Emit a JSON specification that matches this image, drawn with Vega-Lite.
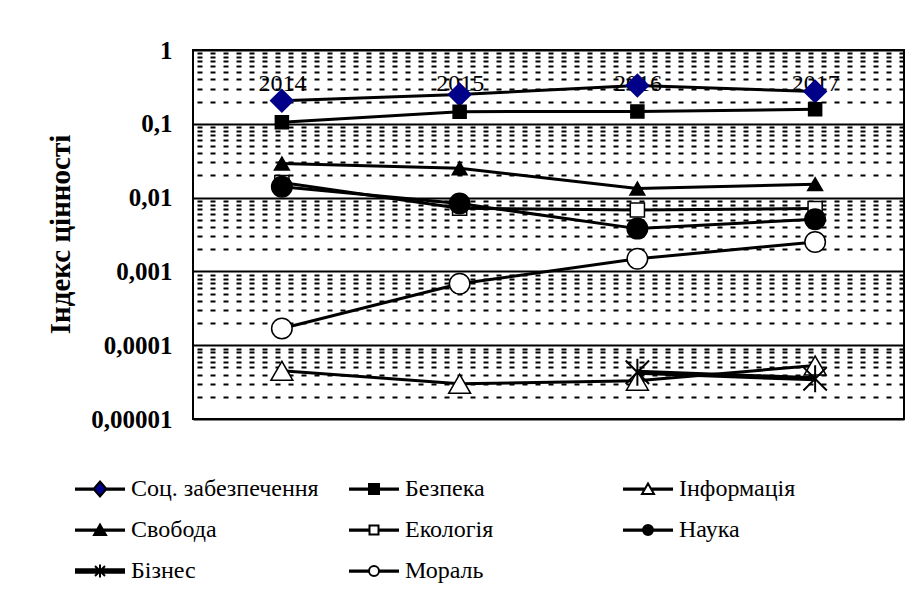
{
  "$schema": "https://vega.github.io/schema/vega-lite/v6.json",
  "width": 711,
  "height": 369,
  "autosize": {"type": "none"},
  "padding": {"left": 193, "top": 50, "right": 6, "bottom": 172},
  "background": "white",
  "config": {
    "view": {"stroke": "black", "strokeWidth": 2, "fill": "white"},
    "font": "Liberation Serif",
    "legend": {"labelFont": "Liberation Serif"}
  },
  "data": {
    "values": [
      {"series": "Соц. забезпечення", "year": "2014", "value": 0.206},
      {"series": "Соц. забезпечення", "year": "2015", "value": 0.25},
      {"series": "Соц. забезпечення", "year": "2016", "value": 0.33},
      {"series": "Соц. забезпечення", "year": "2017", "value": 0.275},
      {"series": "Безпека", "year": "2014", "value": 0.105},
      {"series": "Безпека", "year": "2015", "value": 0.146},
      {"series": "Безпека", "year": "2016", "value": 0.147},
      {"series": "Безпека", "year": "2017", "value": 0.157},
      {"series": "Свобода", "year": "2014", "value": 0.029},
      {"series": "Свобода", "year": "2015", "value": 0.025},
      {"series": "Свобода", "year": "2016", "value": 0.0133},
      {"series": "Свобода", "year": "2017", "value": 0.0152},
      {"series": "Екологія", "year": "2014", "value": 0.016},
      {"series": "Екологія", "year": "2015", "value": 0.0072},
      {"series": "Екологія", "year": "2016", "value": 0.0068},
      {"series": "Екологія", "year": "2017", "value": 0.0071},
      {"series": "Наука", "year": "2014", "value": 0.014},
      {"series": "Наука", "year": "2015", "value": 0.0083},
      {"series": "Наука", "year": "2016", "value": 0.0038},
      {"series": "Наука", "year": "2017", "value": 0.0051},
      {"series": "Мораль", "year": "2014", "value": 0.000168},
      {"series": "Мораль", "year": "2015", "value": 0.00068},
      {"series": "Мораль", "year": "2016", "value": 0.00148},
      {"series": "Мораль", "year": "2017", "value": 0.0025},
      {"series": "Інформація", "year": "2014", "value": 0.000045},
      {"series": "Інформація", "year": "2015", "value": 0.00003},
      {"series": "Інформація", "year": "2016", "value": 0.000033},
      {"series": "Інформація", "year": "2017", "value": 0.000053},
      {"series": "Бізнес", "year": "2016", "value": 0.000043},
      {"series": "Бізнес", "year": "2017", "value": 0.000035}
    ]
  },
  "resolve": {"axis": {"y": "independent"}, "scale": {"shape": "independent", "fill": "independent", "stroke": "independent"}},
  "layer": [
    {
      "mark": {"type": "line", "color": "black"},
      "encoding": {
        "x": {
          "field": "year", "type": "ordinal",
          "scale": {"type": "point", "padding": 0.5, "domain": ["2014", "2015", "2016", "2017"]},
          "axis": {"orient": "top", "title": null, "domain": false, "ticks": false, "tickSize": 0, "grid": false, "labelAngle": 0, "labelPadding": -33, "labelBaseline": "middle", "labelFont": "Liberation Serif", "labelFontSize": 24, "labelColor": "black", "zindex": 0}
        },
        "y": {
          "field": "value", "type": "quantitative",
          "scale": {"type": "log", "domain": [0.00001, 1], "nice": false},
          "axis": {
            "orient": "left",
            "values": [0.00001, 0.0001, 0.001, 0.01, 0.1, 1],
            "labelExpr": "replace(format(datum.value, '.5~f'), '.', ',')",
            "labelFont": "Liberation Serif", "labelFontSize": 25, "labelFontWeight": "bold", "labelColor": "black",
            "labelPadding": 21, "labelOverlap": false, "labelFlush": false,
            "ticks": false, "domain": false,
            "grid": true, "gridColor": "black", "gridWidth": 2, "gridOpacity": 1,
            "title": "Індекс цінності", "titleFont": "Liberation Serif", "titleFontSize": 29, "titleFontWeight": "bold", "titleColor": "black",
            "titleX": -133, "titleY": 184, "titleAngle": 270, "titleBaseline": "middle", "titleAlign": "center",
            "zindex": 0
          }
        },
        "detail": {"field": "series"},
        "strokeWidth": {"condition": {"test": "datum.series === 'Бізнес'", "value": 5}, "value": 3}
      }
    },
    {
      "mark": {"type": "point", "filled": false, "opacity": 1},
      "encoding": {
        "x": {
          "field": "year", "type": "ordinal",
          "scale": {"type": "point", "padding": 0.5, "domain": ["2014", "2015", "2016", "2017"]},
          "axis": {"orient": "top", "title": null, "domain": false, "ticks": false, "tickSize": 0, "grid": false, "labelAngle": 0, "labelPadding": -33, "labelBaseline": "middle", "labelFont": "Liberation Serif", "labelFontSize": 24, "labelColor": "black", "zindex": 0}
        },
        "y": {
          "field": "value", "type": "quantitative",
          "scale": {"type": "log", "domain": [0.00001, 1], "nice": false},
          "axis": {
            "orient": "right",
            "values": [0.00002, 0.00003, 0.00004, 0.00005, 0.00006, 0.00007, 0.00008, 0.00009,
                       0.0002, 0.0003, 0.0004, 0.0005, 0.0006, 0.0007, 0.0008, 0.0009,
                       0.002, 0.003, 0.004, 0.005, 0.006, 0.007, 0.008, 0.009,
                       0.02, 0.03, 0.04, 0.05, 0.06, 0.07, 0.08, 0.09,
                       0.2, 0.3, 0.4, 0.5, 0.6, 0.7, 0.8, 0.9],
            "labels": false, "ticks": false, "domain": false, "title": null,
            "grid": true, "gridColor": "black", "gridWidth": 2, "gridDash": [5, 8], "gridOpacity": 1,
            "zindex": 0
          }
        },
        "fill": {
          "field": "series", "type": "nominal",
          "scale": {
            "domain": ["Соц. забезпечення", "Безпека", "Інформація", "Свобода", "Екологія", "Наука", "Бізнес", "Мораль"],
            "range": ["#000088", "black", "white", "black", "white", "black", "transparent", "white"]
          },
          "legend": null
        },
        "stroke": {
          "field": "series", "type": "nominal",
          "scale": {
            "domain": ["Соц. забезпечення", "Безпека", "Інформація", "Свобода", "Екологія", "Наука", "Бізнес", "Мораль"],
            "range": ["#000088", "black", "black", "black", "black", "black", "black", "black"]
          },
          "legend": null
        },
        "shape": {
          "field": "series", "type": "nominal",
          "scale": {
            "domain": ["Соц. забезпечення", "Безпека", "Інформація", "Свобода", "Екологія", "Наука", "Бізнес", "Мораль"],
            "range": ["diamond", "square", "triangle-up", "triangle-up", "square", "circle", "M-1,-1L1,1M-1,1L1,-1M0,-1.15V1.15", "circle"]
          },
          "legend": null
        },
        "size": {
          "condition": [
            {"test": "datum.series === 'Соц. забезпечення'", "value": 500},
            {"test": "datum.series === 'Безпека'", "value": 170},
            {"test": "datum.series === 'Інформація'", "value": 480},
            {"test": "datum.series === 'Свобода'", "value": 220},
            {"test": "datum.series === 'Екологія'", "value": 200},
            {"test": "datum.series === 'Бізнес'", "value": 550}
          ],
          "value": 420
        },
        "strokeWidth": {"condition": {"test": "datum.series === 'Бізнес'", "value": 2}, "value": 1.5}
      }
    },
    {
      "mark": {"type": "point", "filled": false, "opacity": 0, "strokeWidth": 2},
      "encoding": {
        "fill": {
          "field": "series", "type": "nominal",
          "scale": {
            "domain": ["Соц. забезпечення", "Безпека", "Інформація", "Свобода", "Екологія", "Наука", "Бізнес", "Мораль"],
            "range": ["#000088", "black", "white", "black", "white", "black", "transparent", "white"]
          },
          "legend": {
            "orient": "none", "legendX": -119, "legendY": 413, "direction": "horizontal",
            "columns": 3, "gridAlign": "all", "columnPadding": 26, "rowPadding": 3,
            "title": null, "labelFont": "Liberation Serif", "labelFontSize": 24, "labelColor": "black",
            "labelOffset": 5, "labelLimit": 0, "symbolSize": 2500, "symbolOpacity": 1, "symbolStrokeWidth": 2
          }
        },
        "stroke": {
          "field": "series", "type": "nominal",
          "scale": {
            "domain": ["Соц. забезпечення", "Безпека", "Інформація", "Свобода", "Екологія", "Наука", "Бізнес", "Мораль"],
            "range": ["black", "black", "black", "black", "black", "black", "black", "black"]
          },
          "legend": {
            "orient": "none", "legendX": -119, "legendY": 413, "direction": "horizontal",
            "columns": 3, "gridAlign": "all", "columnPadding": 26, "rowPadding": 3,
            "title": null, "labelFont": "Liberation Serif", "labelFontSize": 24, "labelColor": "black",
            "labelOffset": 5, "labelLimit": 0, "symbolSize": 2500, "symbolOpacity": 1, "symbolStrokeWidth": 2
          }
        },
        "shape": {
          "field": "series", "type": "nominal",
          "scale": {
            "domain": ["Соц. забезпечення", "Безпека", "Інформація", "Свобода", "Екологія", "Наука", "Бізнес", "Мораль"],
            "range": [
              "M-1,-0.025H-0.22M0.22,-0.025H1M-1,0.025H-0.22M0.22,0.025H1M0,-0.3L0.26,0L0,0.3L-0.26,0Z",
              "M-1,-0.025H1M-1,0.025H1M-0.2,-0.2H0.2V0.2H-0.2Z",
              "M-1,-0.025H-0.13M0.13,-0.025H1M-1,0.025H-0.13M0.13,0.025H1M0,-0.22L0.24,0.2L-0.24,0.2Z",
              "M-1,-0.025H1M-1,0.025H1M0,-0.22L0.24,0.2L-0.24,0.2Z",
              "M-1,-0.025H-0.18M0.18,-0.025H1M-1,0.025H-0.18M0.18,0.025H1M-0.18,-0.18H0.18V0.18H-0.18Z",
              "M-1,-0.025H1M-1,0.025H1M0.2,0A0.2,0.2 0 1,1 -0.2,0A0.2,0.2 0 1,1 0.2,0Z",
              "M-1,-0.07H1M-1,-0.025H1M-1,0.025H1M-1,0.07H1M-0.2,-0.2L0.2,0.2M-0.2,0.2L0.2,-0.2M0,-0.26V0.26",
              "M-1,-0.025H-0.2M0.2,-0.025H1M-1,0.025H-0.2M0.2,0.025H1M0.2,0A0.2,0.2 0 1,1 -0.2,0A0.2,0.2 0 1,1 0.2,0Z"
            ]
          },
          "legend": {
            "orient": "none", "legendX": -119, "legendY": 413, "direction": "horizontal",
            "columns": 3, "gridAlign": "all", "columnPadding": 26, "rowPadding": 3,
            "title": null, "labelFont": "Liberation Serif", "labelFontSize": 24, "labelColor": "black",
            "labelOffset": 5, "labelLimit": 0, "symbolSize": 2500, "symbolOpacity": 1, "symbolStrokeWidth": 2
          }
        }
      }
    }
  ]
}
